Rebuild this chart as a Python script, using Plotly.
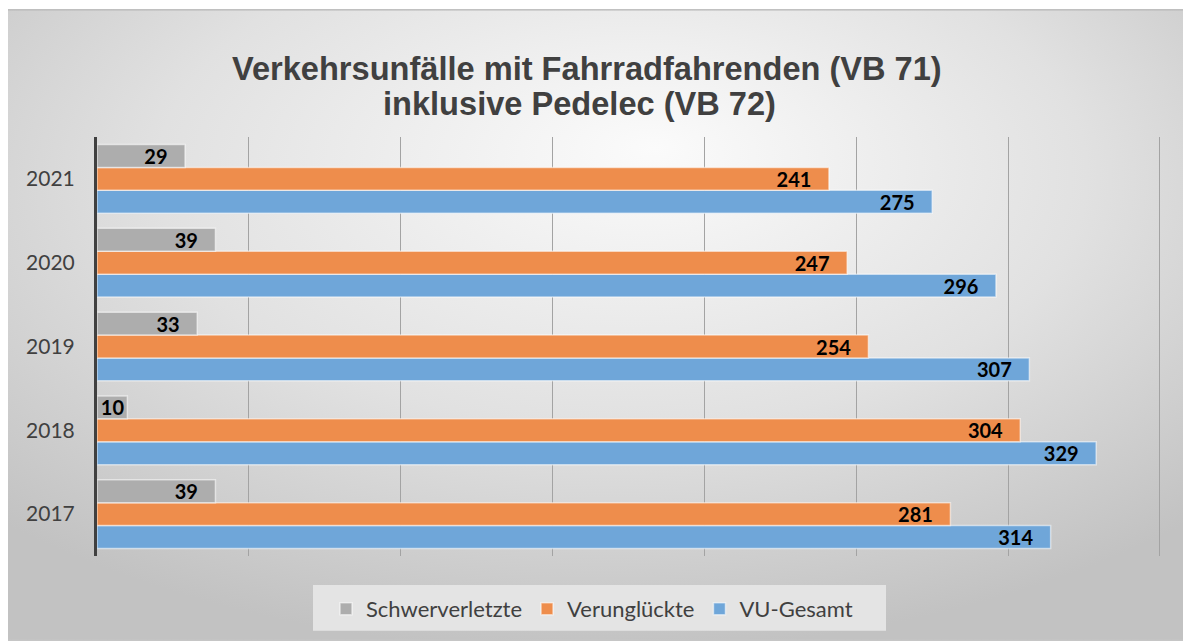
import plotly.graph_objects as go
import base64

years = ["2017", "2018", "2019", "2020", "2021"]
schwerverletzte = [39, 10, 33, 39, 29]
verunglueckte = [281, 304, 254, 247, 241]
vu_gesamt = [314, 329, 307, 296, 275]

title_line1 = "Verkehrsunfälle mit Fahrradfahrenden (VB 71)"
title_line2 = "inklusive Pedelec (VB 72)"

W, H = 1183, 641
ml, mr, mt, mb = 97, 20, 137, 84
pw, ph = W - ml - mr, H - mt - mb

# chart area (gradient) starts at (8, 9) and runs to the window edge
BX, BY = 8, 9
BW, BH = W - BX, H - BY

svg = f"""<svg xmlns='http://www.w3.org/2000/svg' width='{BW}' height='{BH}' viewBox='0 0 {BW} {BH}' preserveAspectRatio='none'>
<defs><radialGradient id='g' cx='50%' cy='30%' r='72%' fx='55%' fy='22%'>
<stop offset='0%' stop-color='#fbfbfb'/><stop offset='55%' stop-color='#e1e1e1'/><stop offset='100%' stop-color='#c2c2c2'/></radialGradient></defs>
<rect x='0' y='0' width='{BW}' height='{BH}' fill='url(#g)'/>
<line x1='0' y1='0.5' x2='{BW}' y2='0.5' stroke='#b8b8b8' stroke-width='1'/>
</svg>"""
src = "data:image/svg+xml;base64," + base64.b64encode(svg.encode()).decode()


def px_x(p):
    return (p - ml) / pw


def px_y(p):
    return (H - mb - p) / ph


lbl_font = dict(family="Lato, Calibri, sans-serif", size=20, color="black", weight="bold")
line = dict(color="rgba(255,255,255,0.55)", width=1.5)
PAD = "\u00a0\u00a0\u00a0"


def templates(vals):
    return ["%{x}" + (PAD if v >= 20 else "") for v in vals]


fig = go.Figure()
for name, vals, color, rank in [
    ("VU-Gesamt", vu_gesamt, "#6fa6d9", 3),
    ("Verunglückte", verunglueckte, "#ee8d4c", 2),
    ("Schwerverletzte", schwerverletzte, "#adadad", 1),
]:
    fig.add_trace(go.Bar(
        y=years, x=vals, orientation="h", name=name,
        marker=dict(color=color, line=line),
        texttemplate=templates(vals),
        textposition="inside", insidetextanchor="end", textangle=0,
        constraintext="none", textfont=lbl_font, legendrank=rank,
        hoverinfo="x+name"))

title_font = dict(family="Liberation Sans, Arial, sans-serif", size=32.6,
                  color="#404040", weight="bold")

fig.update_layout(
    width=W, height=H,
    margin=dict(l=ml, r=mr, t=mt, b=mb, pad=0),
    paper_bgcolor="#c6c6c6", plot_bgcolor="rgba(0,0,0,0)",
    barmode="group", bargap=0.18, bargroupgap=0,
    xaxis=dict(range=[0, 351], tickvals=[50, 100, 150, 200, 250, 300, 350],
               showticklabels=False, showgrid=True,
               gridcolor="#a3a3a3", gridwidth=1, zeroline=False, showline=False,
               layer="above traces", fixedrange=True),
    yaxis=dict(type="category", categoryorder="array", categoryarray=years,
               showgrid=False, zeroline=False, showline=True, linecolor="#404040",
               linewidth=3, ticks="", ticklabelstandoff=15, fixedrange=True,
               tickfont=dict(family="Lato, Calibri, sans-serif", size=21, color="#404040")),
    legend=dict(orientation="h", x=px_x(592), xanchor="center",
                y=px_y(609), yanchor="middle",
                bgcolor="rgba(0,0,0,0)", borderwidth=0,
                font=dict(family="Lato, Calibri, sans-serif", size=22, color="#404040"),
                itemwidth=30, traceorder="normal"),
    showlegend=True,
    shapes=[
        # white page margin left and top of the chart area
        dict(type="rect", xref="paper", yref="paper",
             x0=px_x(-5), x1=px_x(BX), y0=px_y(H + 5), y1=px_y(-5),
             fillcolor="white", line=dict(width=0), layer="below"),
        dict(type="rect", xref="paper", yref="paper",
             x0=px_x(-5), x1=px_x(W + 5), y0=px_y(BY), y1=px_y(-5),
             fillcolor="white", line=dict(width=0), layer="below"),
        dict(type="line", xref="paper", yref="paper",
             x0=px_x(BX), x1=px_x(W + 5), y0=px_y(BY + 0.5), y1=px_y(BY + 0.5),
             line=dict(color="#b8b8b8", width=1), layer="below"),
        # legend box
        dict(type="rect", xref="paper", yref="paper",
             x0=px_x(313), x1=px_x(886), y0=px_y(632), y1=px_y(586),
             fillcolor="#e4e4e4", line=dict(width=0), layer="below"),
    ],
    annotations=[
        dict(text=title_line1, xref="paper", yref="paper", x=px_x(587), y=px_y(68),
             xanchor="center", yanchor="middle", showarrow=False, font=title_font),
        dict(text=title_line2, xref="paper", yref="paper", x=px_x(579), y=px_y(103),
             xanchor="center", yanchor="middle", showarrow=False, font=title_font),
    ],
    images=[dict(source=src, xref="paper", yref="paper",
                 x=px_x(BX), y=px_y(BY),
                 sizex=BW / pw, sizey=BH / ph,
                 xanchor="left", yanchor="top", sizing="stretch", layer="below")],
)

fig.write_html(
    "out.html",
    config={"displayModeBar": False},
    post_script="document.body.style.margin='0';document.body.style.overflow='hidden';",
)
